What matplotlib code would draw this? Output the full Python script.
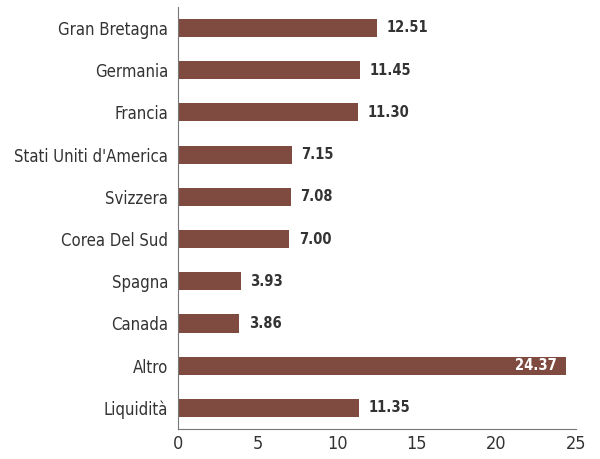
import matplotlib.pyplot as plt

# Paesi e pesi (%)
paesi = ["Gran Bretagna", "Germania", "Francia", "Stati Uniti d'America", "Svizzera",
         "Corea Del Sud", "Spagna", "Canada", "Altro", "Liquidità"]
pesi = [12.51, 11.45, 11.30, 7.15, 7.08, 7.00, 3.93, 3.86, 24.37, 11.35]

plt.rcParams['font.family'] = ['DejaVu Sans']
plt.rcParams['font.stretch'] = 'condensed'

bar_col = "#7f4a40"
txt_col = "#333333"

fig = plt.figure(figsize=(6, 4.59), dpi=100)
ax = fig.add_axes([0.2967, 0.0654, 0.6633, 0.9196])

y = list(range(len(paesi)))
ax.barh(y, pesi, height=0.43, color=bar_col)
ax.set_ylim(len(paesi) - 0.5, -0.5)
ax.set_xlim(0, 25)
ax.set_xticks([0, 5, 10, 15, 20, 25])
ax.set_yticks(y)
ax.set_yticklabels(paesi)

for yi, v in zip(y, pesi):
    if v > 20:
        ax.text(v - 0.6, yi, f"{v:.2f}", ha="right", va="center", color="white",
                fontsize=10.5, fontweight="bold")
    else:
        ax.text(v + 0.6, yi, f"{v:.2f}", ha="left", va="center", color=txt_col,
                fontsize=10.5, fontweight="bold")

for s in ["top", "right"]:
    ax.spines[s].set_visible(False)
for s in ["left", "bottom"]:
    ax.spines[s].set_color("#777777")
ax.tick_params(axis="y", length=0, pad=7, labelsize=12, labelcolor=txt_col)
ax.tick_params(axis="x", length=0, pad=4, labelsize=13, labelcolor=txt_col)

fig.savefig("out.png", dpi=100)
